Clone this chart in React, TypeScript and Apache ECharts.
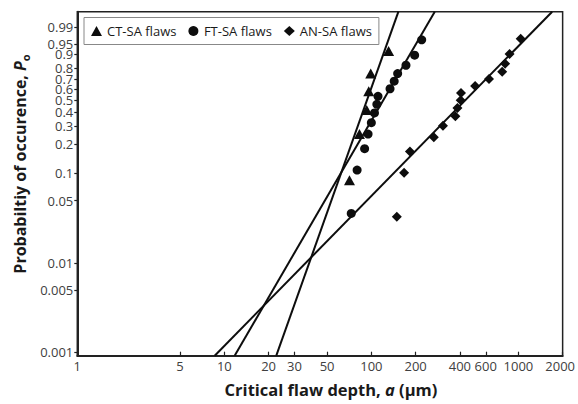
import React, { useEffect, useRef } from "react";
import * as echarts from "echarts";

// Critical flaw depth (µm) and probability of occurrence
const CT_DEPTH = [71, 83, 93, 96, 99, 131];
const CT_PROB = [0.083, 0.25, 0.417, 0.583, 0.75, 0.917];
const FT_DEPTH = [73, 80, 90, 95, 100, 105, 109, 111, 134, 143, 151, 172, 197, 220];
const FT_PROB = [0.036, 0.107, 0.179, 0.25, 0.321, 0.393, 0.464, 0.536, 0.607, 0.679, 0.75, 0.821, 0.893, 0.964];
const AN_DEPTH = [149, 167, 183, 266, 307, 373, 385, 405, 407, 508, 631, 776, 813, 871, 1037];
const AN_PROB = [0.033, 0.1, 0.167, 0.233, 0.3, 0.367, 0.433, 0.5, 0.567, 0.633, 0.7, 0.767, 0.833, 0.9, 0.967];

// Weibull fit lines: modulus m and scale a0 (µm)
const FIT_MODULUS = [4.67, 2.85, 1.69];
const FIT_SCALE = [101, 137, 541];

const SERIES_NAMES = ["CT-SA flaws", "FT-SA flaws", "AN-SA flaws"];
const SERIES_SYMBOLS = ["triangle", "circle", "diamond"];

const X_TICKS = [1, 5, 10, 20, 30, 50, 100, 200, 400, 600, 1000, 2000];
const X_RANGE = [1, 2000];
const Y_TICKS = [0.001, 0.005, 0.01, 0.05, 0.1, 0.2, 0.3, 0.4, 0.5, 0.6, 0.7, 0.8, 0.9, 0.95, 0.99];
const Y_TICK_LABELS = ["0.001", "0.005", "0.01", "0.05", "0.1", "0.2", "0.3", "0.4", "0.5", "0.6", "0.7", "0.8", "0.9", "0.95", "0.99"];
const Y_RANGE = [0.000912, 0.999];

const FONT = "'Open Sans', sans-serif";
const INK = "#0d0d0d";

const wb = (p: number) => Math.log(-Math.log(1 - p));
const lg = (a: number) => Math.log10(a);

export default function App() {
  const ref = useRef<HTMLDivElement>(null);
  useEffect(() => {
    if (!ref.current) return;
    const chart = echarts.init(ref.current, undefined, { renderer: "svg" });
    const xTickVals = X_TICKS.map(lg);
    const yTickVals = Y_TICKS.map(wb);
    const yMin = wb(Y_RANGE[0]);
    const yMax = wb(Y_RANGE[1]);

    const depths = [CT_DEPTH, FT_DEPTH, AN_DEPTH];
    const probs = [CT_PROB, FT_PROB, AN_PROB];
    const sizes: any[] = [[11, 10], 9, 10];

    const scatter = SERIES_NAMES.map((name, i) => ({
      name,
      type: "scatter",
      symbol: SERIES_SYMBOLS[i],
      symbolSize: sizes[i],
      itemStyle: { color: INK, opacity: 1 },
      data: depths[i].map((a, j) => [lg(a), wb(probs[i][j])]),
      z: 3,
    }));

    const fits = FIT_MODULUS.map((m, i) => {
      const xAt = (w: number) => lg(FIT_SCALE[i]) + w / (m * Math.LN10);
      return {
        name: "fit" + i,
        type: "line",
        symbol: "none",
        clip: true,
        lineStyle: { color: INK, width: 2 },
        data: [
          [xAt(yMin), yMin],
          [xAt(yMax), yMax],
        ],
        z: 2,
      };
    });

    const labelX = (v: number) => {
      const k = xTickVals.findIndex((t) => Math.abs(t - v) < 1e-6);
      if (k < 0) return "";
      const s = String(X_TICKS[k]);
      return k === X_TICKS.length - 1 ? "{r|" + s + "}" : s;
    };
    const labelY = (v: number) => {
      const k = yTickVals.findIndex((t) => Math.abs(t - v) < 1e-6);
      return k < 0 ? "" : Y_TICK_LABELS[k];
    };

    chart.setOption({
      animation: false,
      backgroundColor: "#fff",
      grid: {
        left: 77.3,
        right: 10.7,
        top: 11.7,
        bottom: 48.3,
        show: true,
        borderColor: "#222",
        borderWidth: 1.5,
        containLabel: false,
      },
      legend: {
        data: SERIES_NAMES,
        left: 84,
        top: 17.5,
        padding: [7, 7],
        itemGap: 12,
        itemWidth: 11,
        itemHeight: 10,
        borderColor: "#888",
        borderWidth: 1,
        itemStyle: { opacity: 1 },
        textStyle: { fontFamily: FONT, fontSize: 13, color: "#1a1a1a" },
      },
      xAxis: {
        type: "value",
        min: lg(X_RANGE[0]),
        max: lg(X_RANGE[1]),
        splitLine: { show: false },
        axisLine: { onZero: false, lineStyle: { color: "#222", width: 2 } },
        axisTick: { inside: true, length: 4, customValues: xTickVals, lineStyle: { color: "#222", width: 1.2 } },
        axisLabel: {
          customValues: xTickVals,
          formatter: labelX,
          margin: 4,
          fontFamily: FONT,
          fontSize: 13,
          color: "#404040",
          rich: { r: { fontFamily: FONT, fontSize: 13, color: "#404040", padding: [0, 5, 0, 0] } },
        },
      },
      yAxis: {
        type: "value",
        min: yMin,
        max: yMax,
        splitLine: { show: false },
        axisLine: { onZero: false, lineStyle: { color: "#222", width: 2 } },
        axisTick: { inside: false, length: 3, customValues: yTickVals, lineStyle: { color: "#222", width: 1.2 } },
        axisLabel: {
          customValues: yTickVals,
          formatter: labelY,
          margin: 4,
          fontFamily: FONT,
          fontSize: 13,
          color: "#404040",
        },
      },
      graphic: [
        {
          type: "text",
          x: 331,
          y: 389,
          style: {
            text: "{b|Critical flaw depth, }{i|a}{b| (µm)}",
            align: "center",
            verticalAlign: "middle",
            rich: {
              b: { fontFamily: FONT, fontSize: 16.5, fontWeight: "bold", fill: "#1a1a1a" },
              i: { fontFamily: FONT, fontSize: 16.5, fontWeight: "bold", fontStyle: "italic", fill: "#1a1a1a" },
            },
          },
        },
        {
          type: "text",
          x: 20,
          y: 164,
          rotation: Math.PI / 2,
          style: {
            text: "{b|Probabiltiy of occurence, }{i|P}{s|o}",
            align: "center",
            verticalAlign: "middle",
            rich: {
              b: { fontFamily: FONT, fontSize: 16, fontWeight: "bold", fill: "#1a1a1a", lineHeight: 22 },
              i: { fontFamily: FONT, fontSize: 16, fontWeight: "bold", fontStyle: "italic", fill: "#1a1a1a", lineHeight: 22 },
              s: { fontFamily: FONT, fontSize: 11, fontWeight: "bold", fill: "#1a1a1a", lineHeight: 22, verticalAlign: "bottom", padding: [6, 0, 0, 0] },
            },
          },
        },
      ],
      series: [...fits, ...scatter],
    });
    return () => chart.dispose();
  }, []);
  return <div ref={ref} style={{ width: 578, height: 404, position: "absolute", left: 0, top: 0 }} />;
}
